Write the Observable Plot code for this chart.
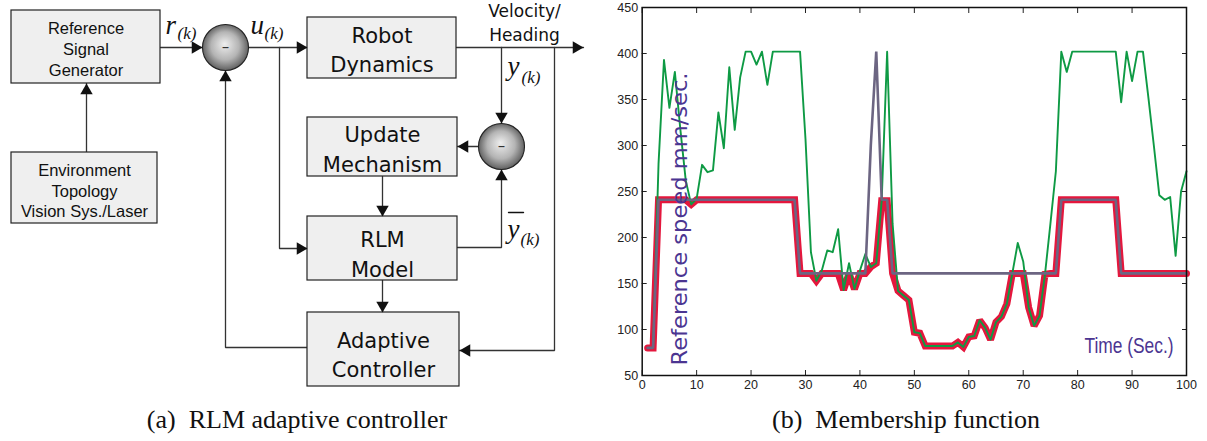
<!DOCTYPE html>
<html><head><meta charset="utf-8">
<script src="https://cdn.jsdelivr.net/npm/d3@7"></script>
<script src="https://cdn.jsdelivr.net/npm/@observablehq/plot@0.6"></script>
<style>
body{margin:0;background:#fff;width:1207px;height:441px;overflow:hidden;position:relative;}
#diagram{position:absolute;left:0;top:0;}
#chart{position:absolute;left:600px;top:0;}
.cap{position:absolute;top:405px;line-height:30px;font-family:"Liberation Serif","Times New Roman",serif;font-size:26px;color:#111;white-space:pre;transform:translateX(-50%);}
</style></head><body>
<div id="diagram"></div><div id="chart"></div>
<div class="cap" style="left:297px">(a)&ensp;RLM adaptive controller</div>
<div class="cap" style="left:906px">(b)&ensp;Membership function</div>
<script>
// ---------------- Chart data (panel b) ----------------
const time = [1,2,3,4,5,6,7,8,9,10,11,12,13,14,15,16,17,18,19,20,21,22,23,24,25,26,27,28,29,30,31,32,33,34,35,36,37,38,39,40,41,42,43,44,45,46,47,48,49,50,51,52,53,54,55,56,57,58,59,60,61,62,63,64,65,66,67,68,69,70,71,72,73,74,75,76,77,78,79,80,81,82,83,84,85,86,87,88,89,90,91,92,93,94,95,96,97,98,99,100];
const greenSpeed = [80,80,280,393,341,380,318,262,236,242,279,271,273,336,297,385,317,374,402,402,388,402,366,402,402,402,402,402,402,307,184,153,164,186,184,209,143,172,144,164,182,168,172,240,402,215,142,137,132,97,96,82,82,82,82,82,82,86,81,92,93,110,102,89,108,114,128,161,194,174,124,104,115,160,215,272,402,380,402,402,402,402,402,402,402,402,402,347,402,370,402,402,352,300,246,241,244,180,250,272];
const redSpeed = [80,80,241,241,241,241,241,241,236,241,241,241,241,241,241,241,241,241,241,241,241,241,241,241,241,241,241,241,161,161,161,153,161,161,161,161,143,161,144,161,161,168,172,240,240,161,142,137,132,97,96,82,82,82,82,82,82,86,81,92,93,110,102,89,108,114,128,161,161,161,124,104,115,160,161,161,241,241,241,241,241,241,241,241,241,241,241,161,161,161,161,161,161,161,161,161,161,161,161,161];
const graySpeed = [80,80,241,241,241,241,241,241,241,241,241,241,241,241,241,241,241,241,241,241,241,241,241,241,241,241,241,241,161,161,161,161,161,161,161,161,161,161,161,161,161,300,402,241,241,161,161,161,161,161,161,161,161,161,161,161,161,161,161,161,161,161,161,161,161,161,161,161,161,161,161,161,161,161,161,161,241,241,241,241,241,241,241,241,241,241,241,161,161,161,161,161,161,161,161,161,161,161,161,161];
const xTicks = [0,10,20,30,40,50,60,70,80,90,100];
const yTicks = [50,100,150,200,250,300,350,400,450];
const yLabel = "Reference speed mm/sec.";
const xLabel = "Time (Sec.)";

// ---------------- Diagram data (panel a) ----------------
const boxes = [
  {id:"rsg", label:"Reference\nSignal\nGenerator", kind:"arial"},
  {id:"env", label:"Environment\nTopology\nVision Sys./Laser", kind:"arial"},
  {id:"robot", label:"Robot\nDynamics", kind:"gothic"},
  {id:"update", label:"Update\nMechanism", kind:"gothic"},
  {id:"rlm", label:"RLM\nModel", kind:"gothic"},
  {id:"ctrl", label:"Adaptive\nController", kind:"gothic"}
];
const boxLayout = {
  rsg:{x1:11,y1:10,x2:160,y2:83,ty:48},
  env:{x1:11,y1:152,x2:157,y2:223,ty:189.5},
  robot:{x1:307,y1:17,x2:456,y2:78,ty:47.5},
  update:{x1:307,y1:117,x2:457,y2:176,ty:147},
  rlm:{x1:307,y1:216,x2:457,y2:280,ty:252},
  ctrl:{x1:307,y1:312,x2:459,y2:386,ty:352.5}
};
const junctions = [{id:"sum1", x:225, y:47}, {id:"sum2", x:501, y:146}];
const wires = [
  {id:"env-rsg", pts:[[86,152],[86,83]]},
  {id:"rsg-sum1", pts:[[160,47],[202,47]]},
  {id:"sum1-robot", pts:[[248,47],[307,47]]},
  {id:"robot-out", pts:[[456,47],[583,47]]},
  {id:"out-sum2", pts:[[501,47],[501,123]]},
  {id:"sum2-update", pts:[[478,146],[457,146]]},
  {id:"update-rlm", pts:[[382,176],[382,216]]},
  {id:"u-rlm", pts:[[279,47],[279,248],[307,248]]},
  {id:"rlm-sum2", pts:[[457,247],[501,247],[501,169]]},
  {id:"rlm-ctrl", pts:[[382,280],[382,312]]},
  {id:"out-ctrl", pts:[[554,47],[554,350],[459,350]]},
  {id:"ctrl-sum1", pts:[[307,347],[225,347],[225,70]]}
];
const signalLabels = [
  {main:"r", sub:"(k)", x:165, y:33, sx:177, sy:38},
  {main:"u", sub:"(k)", x:250, y:33, sx:264, sy:38},
  {main:"y", sub:"(k)", x:507, y:74, sx:521, sy:82},
  {main:"y", sub:"(k)", x:507, y:237, sx:520, sy:244}
];
const overbar = [{id:"bar", x:508, y:212}, {id:"bar", x:523, y:212}];
const outputLabel = {text:"Velocity/\nHeading", x:524, y:21};

// ---------------- Build diagram ----------------
const wireRows = wires.flatMap(w => w.pts.map(([x,y]) => ({id:w.id, x, y})));
const heads = wires.map(w => {
  const n = w.pts.length;
  const [x2,y2] = w.pts[n-1], [x1,y1] = w.pts[n-2];
  const dx = Math.sign(x2-x1), dy = Math.sign(y2-y1);
  const rot = dx > 0 ? 90 : dx < 0 ? 270 : dy > 0 ? 180 : 0;
  return {x: x2 - dx*7.2, y: y2 - dy*7.2, rot};
});
const boxRows = boxes.map(b => ({...b, ...boxLayout[b.id]}));
const gothic = "DejaVu Sans, Verdana, sans-serif";
const arial = "Liberation Sans, Arial, sans-serif";
const serif = "Liberation Serif, Times New Roman, serif";

const diag = Plot.plot({
  width: 600, height: 400, margin: 0,
  x: {domain:[0,600], range:[0,600], axis:null},
  y: {domain:[0,400], range:[0,400], axis:null},
  style: {background:"transparent"},
  marks: [
    Plot.line(wireRows, {x:"x", y:"y", z:"id", stroke:"#333", strokeWidth:1.3, strokeLinejoin:"miter"}),
    Plot.rect(boxRows, {x1:"x1", x2:"x2", y1:"y1", y2:"y2", fill:"#efefef", stroke:"#222", strokeWidth:1.2}),
    Plot.dot(junctions, {x:"x", y:"y", r:23, fill:"url(#sphere)", stroke:"#222", strokeWidth:1.1}),
    Plot.text(junctions, {x:"x", y:"y", text:() => "\u2013", fontSize:14, fill:"#333"}),
    Plot.dot(heads, {x:"x", y:"y", symbol:"triangle", r:4.6, fill:"#111", stroke:"none", rotate:"rot"}),
    Plot.text(boxRows.filter(b => b.kind === "arial"), {x: b => (b.x1+b.x2)/2, y:"ty", text:"label", fontFamily:arial, fontSize:16.5, lineHeight:1.25, fill:"#111"}),
    Plot.text(boxRows.filter(b => b.kind === "gothic"), {x: b => (b.x1+b.x2)/2, y:"ty", text:"label", fontFamily:gothic, fontSize:21, lineHeight:1.4, fill:"#111"}),
    Plot.text([outputLabel], {x:"x", y:"y", text:"text", fontFamily:gothic, fontSize:17, lineHeight:1.4, fill:"#111"}),
    Plot.text(signalLabels, {x:"x", y:"y", text:"main", fontFamily:serif, fontStyle:"italic", fontSize:27, textAnchor:"start", lineAnchor:"bottom", fill:"#111"}),
    Plot.text(signalLabels, {x:"sx", y:"sy", text:"sub", fontFamily:serif, fontStyle:"italic", fontSize:17, textAnchor:"start", lineAnchor:"bottom", fill:"#111"}),
    Plot.line(overbar, {x:"x", y:"y", stroke:"#111", strokeWidth:1.4})
  ]
});
const dsel = d3.select(diag);
const defs = dsel.insert("defs", ":first-child");
const grad = defs.append("radialGradient").attr("id","sphere").attr("cx","50%").attr("cy","50%").attr("r","55%").attr("fx","48%").attr("fy","42%");
grad.append("stop").attr("offset","0%").attr("stop-color","#eeeeee");
grad.append("stop").attr("offset","55%").attr("stop-color","#b4b4b4");
grad.append("stop").attr("offset","100%").attr("stop-color","#4e4e4e");
document.getElementById("diagram").append(diag);

// ---------------- Build chart ----------------
const rows = time.map((t,i) => ({t, green:greenSpeed[i], red:redSpeed[i], gray:graySpeed[i]}));
const purple = "#4b3591";
const chart = Plot.plot({
  width: 607, height: 400,
  marginLeft: 41.7, marginRight: 21, marginTop: 7, marginBottom: 25,
  x: {domain:[0,100], label:null},
  y: {domain:[50,450], label:null},
  style: {fontFamily: arial, fontSize:"12.5px", color:"#222", background:"transparent"},
  marks: [
    Plot.axisX(xTicks, {anchor:"bottom", tickSize:0, tickPadding:5, label:null}),
    Plot.axisY(yTicks, {anchor:"left", tickSize:0, tickPadding:4, label:null}),
    Plot.axisX(xTicks, {anchor:"bottom", tickSize:-5, fill:"none", label:null, stroke:"#222"}),
    Plot.axisX(xTicks, {anchor:"top", tickSize:-5, fill:"none", label:null, stroke:"#222"}),
    Plot.axisY(yTicks, {anchor:"left", tickSize:-5, fill:"none", label:null, stroke:"#222"}),
    Plot.axisY(yTicks, {anchor:"right", tickSize:-5, fill:"none", label:null, stroke:"#222"}),
    Plot.line(rows, {x:"t", y:"red", stroke:"#e4173d", strokeWidth:7, strokeLinejoin:"miter", strokeMiterlimit:2}),
    Plot.line(rows, {x:"t", y:"green", stroke:"#0e9a44", strokeWidth:1.9}),
    Plot.line(rows, {x:"t", y:"gray", stroke:"#6c6582", strokeWidth:2.6, strokeLinejoin:"miter"}),
    Plot.frame({stroke:"#111", strokeWidth:1.5}),
    Plot.text([yLabel], {text:d => d, frameAnchor:"bottom-left", rotate:-90, textAnchor:"start", dx:45, dy:-10, fill:purple, fontSize:21, fontFamily:gothic, className:"ylab"}),
    Plot.text([xLabel], {text:d => d, frameAnchor:"bottom-right", textAnchor:"end", dx:-13, dy:-23, fill:purple, fontSize:22, fontFamily:"Liberation Sans Narrow, Arial Narrow, sans-serif", className:"xlab"})
  ]
});
d3.select(chart).selectAll(".ylab text").attr("textLength", 293).attr("lengthAdjust", "spacingAndGlyphs");
d3.select(chart).selectAll(".xlab text").attr("textLength", 89).attr("lengthAdjust", "spacingAndGlyphs");
document.getElementById("chart").append(chart);
</script>
</body></html>
